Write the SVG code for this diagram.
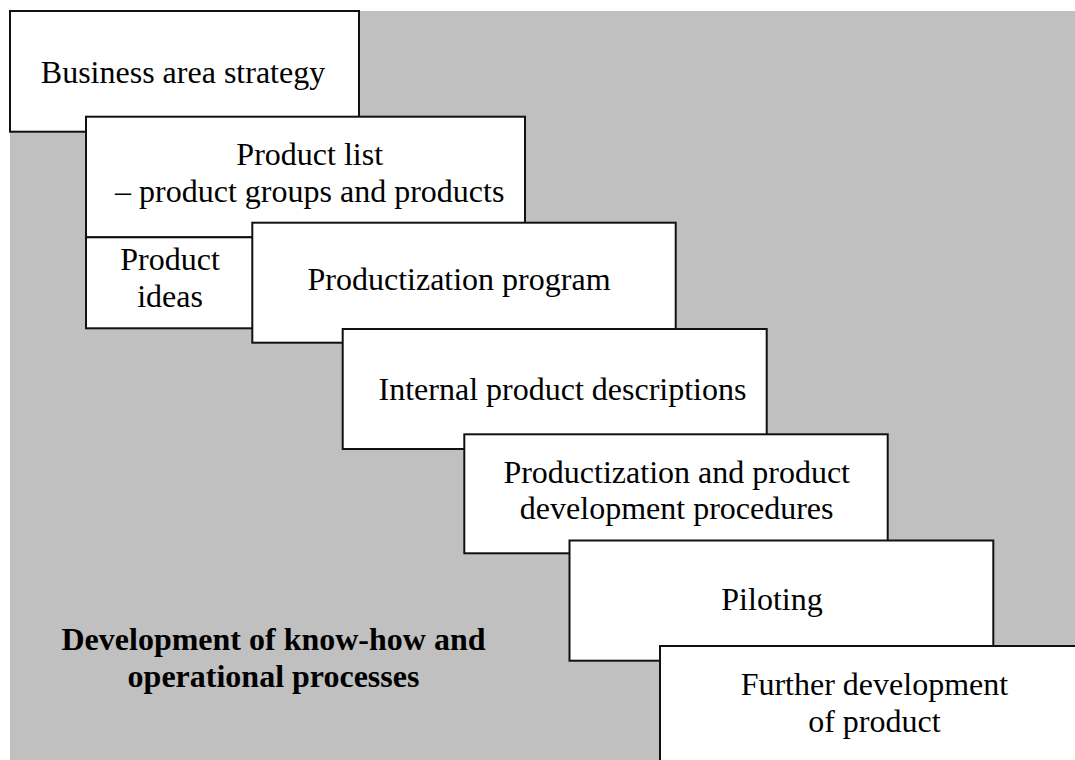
<svg xmlns="http://www.w3.org/2000/svg" width="1075" height="760" viewBox="0 0 1075 760">
  <style>
    .box { fill: #ffffff; stroke: #111111; stroke-width: 2; }
    .t { font-family: "Liberation Serif", "Times New Roman", serif; font-size: 32px; fill: #000000; text-anchor: middle; }
    .b { font-weight: bold; }
  </style>
  <rect x="0" y="0" width="1075" height="760" fill="#ffffff"/>
  <rect id="background" x="10" y="11" width="1070" height="760" fill="#c0c0c0"/>
  <g id="connectors"></g>
  <g id="label-know-how">
    <text class="t b" x="273.5" y="650">Development of know-how and</text>
    <text class="t b" x="273.5" y="686.7">operational processes</text>
  </g>
  <g id="node-business-area-strategy">
    <rect class="box" x="10" y="11" width="349" height="120.7"/>
    <text class="t" x="183" y="83.3">Business area strategy</text>
  </g>
  <g id="node-product-list">
    <rect class="box" x="86" y="116.7" width="439" height="120.6"/>
    <text class="t" x="309.7" y="165">Product list</text>
    <text class="t" x="309.7" y="201.7">– product groups and products</text>
  </g>
  <g id="node-product-ideas">
    <rect class="box" x="86" y="237.3" width="200" height="91"/>
    <text class="t" x="170" y="270">Product</text>
    <text class="t" x="170" y="307.3">ideas</text>
  </g>
  <g id="node-productization-program">
    <rect class="box" x="252.3" y="222.7" width="423.4" height="120"/>
    <text class="t" x="459" y="290">Productization program</text>
  </g>
  <g id="node-internal-product-descriptions">
    <rect class="box" x="342.7" y="329" width="424" height="120"/>
    <text class="t" x="562.5" y="400">Internal product descriptions</text>
  </g>
  <g id="node-procedures">
    <rect class="box" x="464.3" y="434.3" width="423.4" height="119"/>
    <text class="t" x="676.7" y="482.7">Productization and product</text>
    <text class="t" x="676.7" y="519.3">development procedures</text>
  </g>
  <g id="node-piloting">
    <rect class="box" x="569.5" y="540.5" width="423.8" height="120.2"/>
    <text class="t" x="772" y="610">Piloting</text>
  </g>
  <g id="node-further-development">
    <rect class="box" x="660" y="646" width="440" height="140"/>
    <text class="t" x="874.4" y="695">Further development</text>
    <text class="t" x="874.4" y="731.7">of product</text>
  </g>
</svg>
